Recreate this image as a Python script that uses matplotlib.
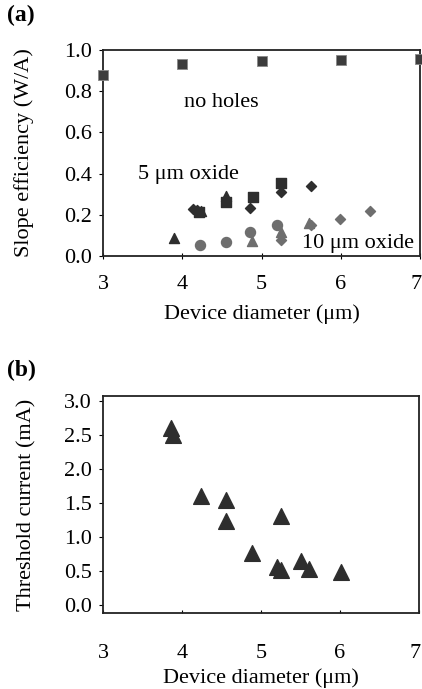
import numpy as np
import matplotlib
matplotlib.use("Agg")
import matplotlib.pyplot as plt
import matplotlib.transforms as mtransforms

plt.rcParams['font.family'] = ['Liberation Serif', 'DejaVu Serif']

# (a) slope efficiency vs device diameter
noholes_x = [3.0, 4.0, 5.0, 6.0, 7.0]
noholes_y = [0.88, 0.93, 0.945, 0.95, 0.955]

ox5_sq_x = [4.21, 4.55, 4.89, 5.24]
ox5_sq_y = [0.215, 0.264, 0.288, 0.355]
ox5_di_x = [4.13, 4.18, 4.86, 5.24, 5.63]
ox5_di_y = [0.228, 0.225, 0.231, 0.312, 0.34]
ox5_tr_x = [3.90, 4.24, 4.55]
ox5_tr_y = [0.086, 0.218, 0.292]

ox10_ci_x = [4.22, 4.55, 4.86, 5.20]
ox10_ci_y = [0.053, 0.069, 0.118, 0.152]
ox10_tr_x = [4.88, 5.24, 5.60]
ox10_tr_y = [0.074, 0.115, 0.159]
ox10_di_x = [5.25, 5.63, 5.99, 6.37]
ox10_di_y = [0.078, 0.150, 0.178, 0.220]

# (b) threshold current vs device diameter
ith_x = [3.86, 3.89, 4.24, 4.56, 4.56, 5.25, 4.88, 5.20, 5.25, 5.51, 5.61, 6.01]
ith_y = [2.60, 2.50, 1.61, 1.55, 1.24, 1.31, 0.76, 0.55, 0.51, 0.65, 0.53, 0.48]

W, H = 422, 689
fig = plt.figure(figsize=(W / 100, H / 100), dpi=100)

def box(l, t, r, b):
    return [l / W, 1 - b / H, (r - l) / W, (b - t) / H]

dark = '#2e2e2e'
mid = '#6e6e6e'
fs = 16

# panel (a)
ax1 = fig.add_axes(box(103, 50, 420, 256))
ax1.scatter(noholes_x, noholes_y, marker='s', s=62, color='#3c3c3c',
            edgecolors='#888888', linewidths=0.6, clip_on=False, zorder=3)
ax1.scatter(ox5_di_x, ox5_di_y, marker='D', s=26, color=dark, zorder=3)
ax1.scatter(ox5_sq_x, ox5_sq_y, marker='s', s=50, color=dark, zorder=3)
ax1.scatter(ox5_tr_x, ox5_tr_y, marker='^', s=52, color=dark, zorder=2)
ax1.scatter(ox10_ci_x, ox10_ci_y, marker='o', s=52, color=mid, zorder=3)
ax1.scatter(ox10_tr_x, ox10_tr_y, marker='^', s=52, color=mid, zorder=3)
ax1.scatter(ox10_di_x, ox10_di_y, marker='D', s=26, color=mid, zorder=3)
ax1.set_xlim(3, 7)
ax1.set_ylim(0, 1.0)
ax1.set_xticks([3, 4, 5, 6, 7])
ax1.set_yticks(np.arange(0, 1.01, 0.2))
ax1.set_yticklabels([f'{v:.1f}' for v in np.arange(0, 1.01, 0.2)])
ax1.set_xlabel('Device diameter (\u03bcm)', fontsize=fs, labelpad=7)
ax1.set_ylabel('Slope efficiency (W/A)', fontsize=fs)
ax1.yaxis.set_label_coords(-0.218, 0.5)
ax1.text(4.02, 0.745, 'no holes', fontsize=fs, va='center', ha='left')
ax1.text(3.44, 0.398, '5 \u03bcm oxide', fontsize=fs, va='center', ha='left')
ax1.text(5.51, 0.06, '10 \u03bcm oxide', fontsize=fs, va='center', ha='left')
ax1.tick_params(axis='x', direction='inout', length=4, pad=12, labelsize=fs)
ax1.tick_params(axis='y', direction='out', length=3, pad=5, labelsize=fs)
fig.text(7 / W, 1 - 15 / H, '(a)', fontsize=17, fontweight='bold', va='center')

# panel (b)
ax2 = fig.add_axes(box(103, 396, 419, 613))
ax2.scatter(ith_x, ith_y, marker='^', s=128, color=dark, zorder=3)
ax2.set_xlim(3, 7)
ax2.set_ylim(-0.125, 3.08)
ax2.set_xticks([3, 4, 5, 6, 7])
ax2.set_yticks(np.arange(0, 3.01, 0.5))
ax2.set_yticklabels([f'{v:.1f}' for v in np.arange(0, 3.01, 0.5)])
ax2.set_xlabel('Device diameter (\u03bcm)', fontsize=fs, labelpad=4)
ax2.set_ylabel('Threshold current (mA)', fontsize=fs)
ax2.yaxis.set_label_coords(-0.209, 0.5)
ax2.tick_params(axis='x', direction='in', length=2, pad=22, labelsize=fs)
ax2.tick_params(axis='y', direction='out', length=3, pad=5, labelsize=fs)
fig.text(7 / W, 1 - 370 / H, '(b)', fontsize=17, fontweight='bold', va='center')

for ax in (ax1, ax2):
    for sp in ax.spines.values():
        sp.set_linewidth(1.3)
        sp.set_color('#222222')
    # the last tick label sits at the figure edge, nudge it inwards
    last = ax.get_xticklabels()[-1]
    last.set_transform(last.get_transform() +
                       mtransforms.ScaledTranslation(-4 / 100, 0, fig.dpi_scale_trans))

fig.savefig('out.png', dpi=100)
